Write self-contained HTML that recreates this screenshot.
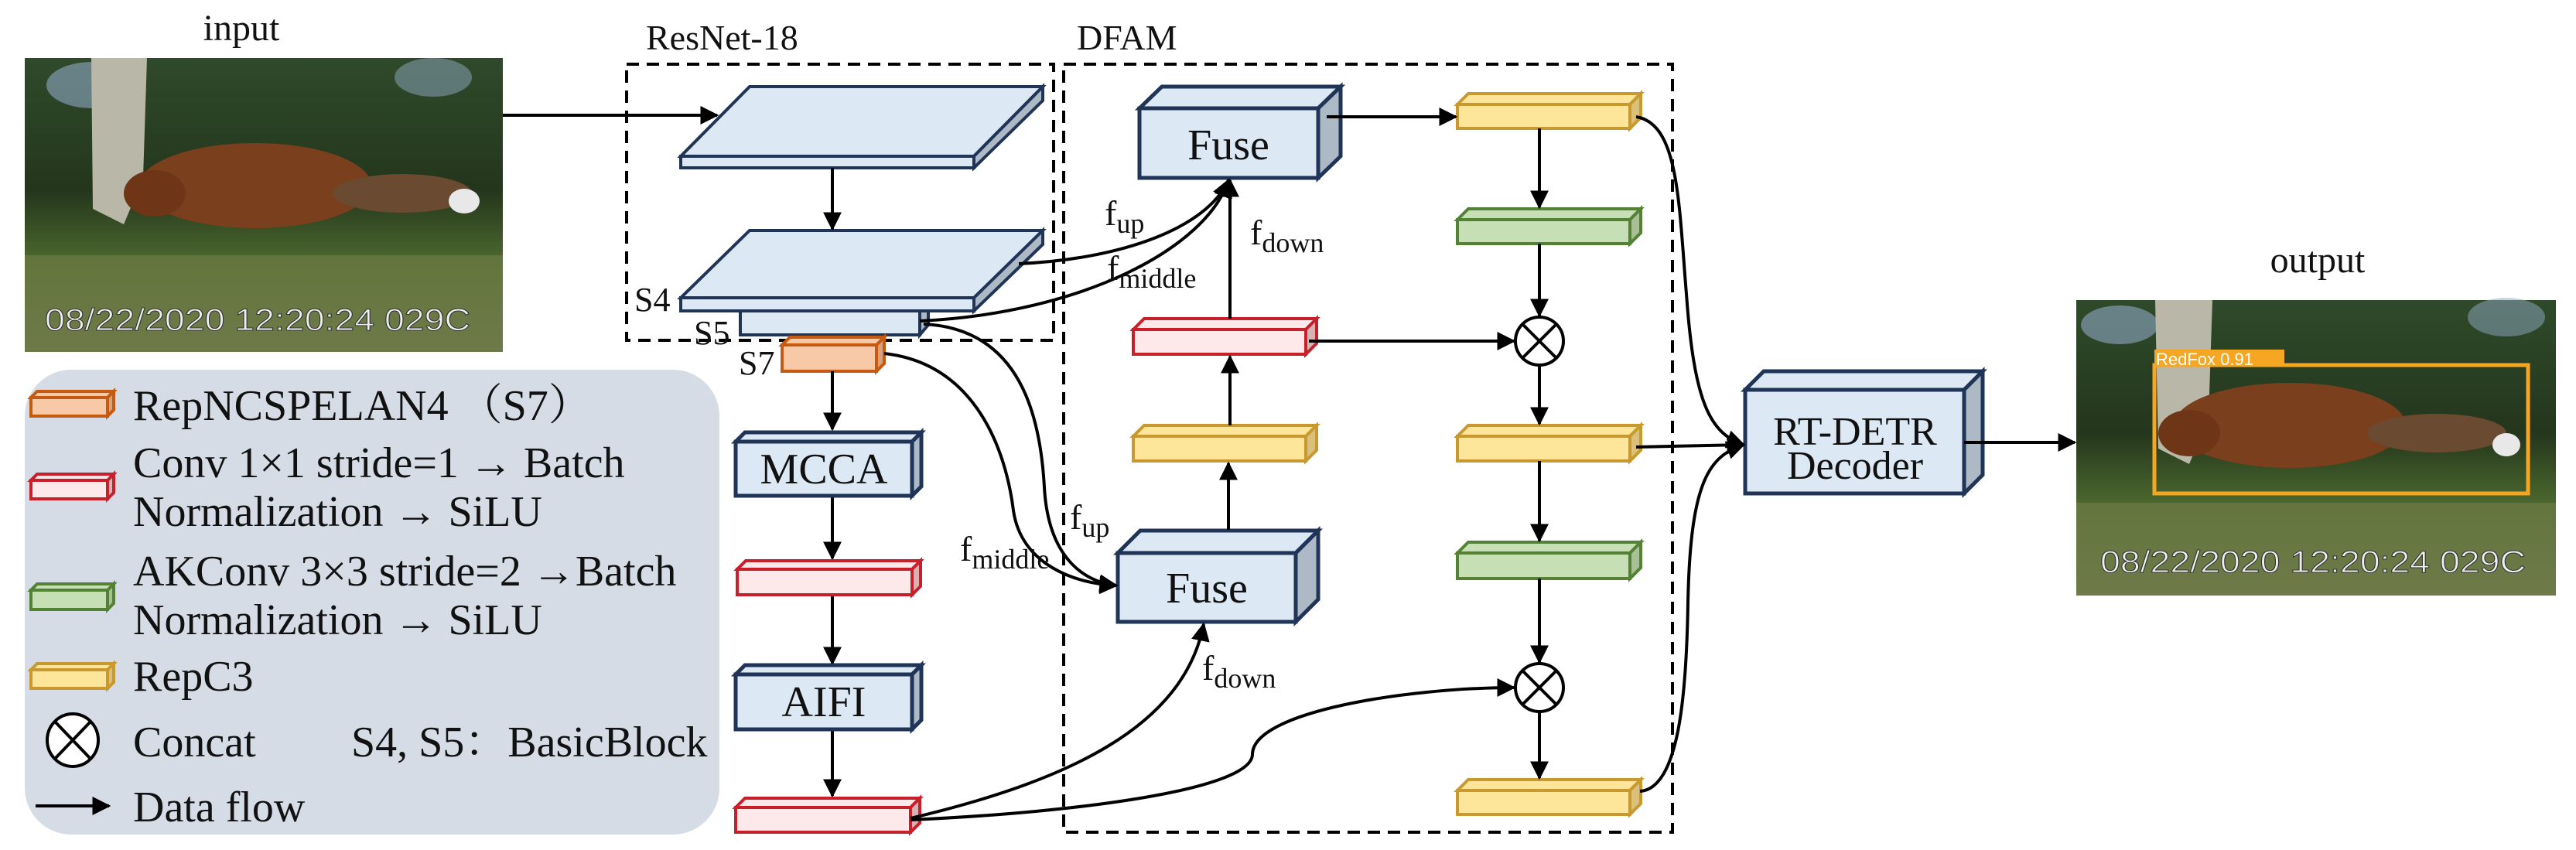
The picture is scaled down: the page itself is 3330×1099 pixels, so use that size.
<!DOCTYPE html>
<html><head><meta charset="utf-8"><style>
html,body{margin:0;padding:0;background:#fff;}
svg{display:block;}
</style></head><body>
<svg width="3330" height="1099" viewBox="0 0 3330 1099" xmlns="http://www.w3.org/2000/svg">
<defs>
<marker id="ah" viewBox="0 0 10 10" refX="9" refY="5" markerWidth="6" markerHeight="6" orient="auto" markerUnits="strokeWidth">
<path d="M0,0 L10,5 L0,10 z" fill="#000"/></marker>
<linearGradient id="sky" x1="0" y1="0" x2="0" y2="1">
<stop offset="0" stop-color="#2f4a2a"/><stop offset="0.45" stop-color="#24361c"/><stop offset="0.7" stop-color="#4d6a2f"/><stop offset="1" stop-color="#6f7a55"/></linearGradient>
</defs>
<g style="font-family:'Liberation Serif',serif;" fill="#111">

<!-- input photo -->
<text x="312" y="52" font-size="48" text-anchor="middle">input</text>
<g>
<rect x="32" y="75" width="618" height="380" fill="url(#sky)"/>
<ellipse cx="120" cy="110" rx="60" ry="30" fill="#8fa9c4" opacity="0.6"/>
<ellipse cx="560" cy="100" rx="50" ry="25" fill="#8fa9c4" opacity="0.5"/>
<polygon points="118,75 190,75 185,230 160,290 120,270" fill="#b9b7a8"/>
<ellipse cx="330" cy="240" rx="150" ry="55" fill="#7a3f1c"/>
<ellipse cx="520" cy="250" rx="90" ry="25" fill="#6a4a30"/>
<ellipse cx="600" cy="260" rx="20" ry="16" fill="#e8e8e8"/>
<ellipse cx="200" cy="250" rx="40" ry="30" fill="#6e3516"/>
<rect x="32" y="330" width="618" height="125" fill="#6d7a45" opacity="0.7"/>
<text x="58" y="427" font-size="40" textLength="550" lengthAdjust="spacingAndGlyphs" style="font-family:'Liberation Sans',sans-serif;fill:#eee;stroke:#333;stroke-width:1">08/22/2020 12:20:24  029C</text>
</g>
<line x1="650" y1="149" x2="927" y2="149" stroke="#000" stroke-width="4" marker-end="url(#ah)"/>

<!-- ResNet -->
<text x="835" y="64" font-size="46">ResNet-18</text>
<rect x="810" y="83" width="552" height="357" fill="none" stroke="#000" stroke-width="4" stroke-dasharray="16,10"/>
<g stroke="#1f3457" stroke-width="4">
<polygon points="880,202 969,112 1348,112 1259,202" fill="#dce9f5"/>
<rect x="880" y="202" width="379" height="15" fill="#dce9f5"/>
<polygon points="1259,202 1348,112 1348,130 1259,217" fill="#adb9c5"/>
<polygon points="880,385 969,298 1348,298 1259,385" fill="#dce9f5"/>
<rect x="880" y="385" width="379" height="17" fill="#dce9f5"/>
<polygon points="1259,385 1348,298 1348,316 1259,402" fill="#adb9c5"/>
<rect x="957" y="402" width="232" height="31" fill="#dce9f5"/>
<polygon points="1189,402 1200,402 1200,420 1189,433" fill="#adb9c5"/>
</g>
<line x1="1076" y1="217" x2="1076" y2="296" stroke="#000" stroke-width="4" marker-end="url(#ah)"/>
<text x="820" y="402" font-size="44">S4</text>
<text x="897" y="445" font-size="44">S5</text>
<g stroke="#c55a11" stroke-width="4">
<polygon points="1011,446 1021,436 1143,436 1133,446" fill="#f7c9a6"/>
<rect x="1011" y="446" width="122" height="34" fill="#f7c9a6"/>
<polygon points="1133,446 1143,436 1143,470 1133,480" fill="#d8a27a"/>
</g>
<text x="955" y="484" font-size="44">S7</text>

<!-- centre column -->
<g stroke="#000" stroke-width="4" marker-end="url(#ah)">
<line x1="1076" y1="480" x2="1076" y2="555"/>
<line x1="1076" y1="641" x2="1076" y2="722"/>
<line x1="1076" y1="769" x2="1076" y2="858"/>
<line x1="1076" y1="943" x2="1076" y2="1029"/>
</g>
<g stroke="#1f3457" stroke-width="5">
<polygon points="951,571 963,559 1191,559 1179,571" fill="#dce9f5"/><rect x="951" y="571" width="228" height="70" fill="#dce9f5"/><polygon points="1179,571 1191,559 1191,629 1179,641" fill="#adb9c5"/>
<polygon points="951,872 963,860 1191,860 1179,872" fill="#dce9f5"/><rect x="951" y="872" width="228" height="71" fill="#dce9f5"/><polygon points="1179,872 1191,860 1191,931 1179,943" fill="#adb9c5"/>
</g>
<text x="1065" y="625" font-size="56" text-anchor="middle">MCCA</text>
<text x="1065" y="926" font-size="56" text-anchor="middle">AIFI</text>
<g stroke="#c8202a" stroke-width="4">
<polygon points="953,736 964,725 1190,725 1179,736" fill="#fde9ea"/><rect x="953" y="736" width="226" height="33" fill="#fde9ea"/><polygon points="1179,736 1190,725 1190,758 1179,769" fill="#d6b3b5"/>
<polygon points="951,1044 963,1032 1189,1032 1177,1044" fill="#fde9ea"/><rect x="951" y="1044" width="226" height="32" fill="#fde9ea"/><polygon points="1177,1044 1189,1032 1189,1064 1177,1076" fill="#d6b3b5"/>
</g>

<!-- DFAM -->
<text x="1392" y="64" font-size="46">DFAM</text>
<rect x="1375" y="83" width="787" height="993" fill="none" stroke="#000" stroke-width="4" stroke-dasharray="16,10"/>
<g stroke="#1f3457" stroke-width="5">
<polygon points="1473,140 1502,112 1733,112 1704,140" fill="#dce9f5"/><rect x="1473" y="140" width="231" height="90" fill="#dce9f5"/><polygon points="1704,140 1733,112 1733,202 1704,230" fill="#adb9c5"/>
<polygon points="1445,715 1474,686 1704,686 1675,715" fill="#dce9f5"/><rect x="1445" y="715" width="230" height="89" fill="#dce9f5"/><polygon points="1675,715 1704,686 1704,775 1675,804" fill="#adb9c5"/>
<polygon points="2256,504 2280,480 2563,480 2539,504" fill="#dce9f5"/><rect x="2256" y="504" width="283" height="134" fill="#dce9f5"/><polygon points="2539,504 2563,480 2563,614 2539,638" fill="#adb9c5"/>
</g>
<text x="1588" y="206" font-size="56" text-anchor="middle">Fuse</text>
<text x="1560" y="779" font-size="56" text-anchor="middle">Fuse</text>
<text x="2398" y="575" font-size="52" text-anchor="middle">RT-DETR</text>
<text x="2398" y="619" font-size="52" text-anchor="middle">Decoder</text>

<!-- bars -->
<g stroke-width="4">
<g stroke="#c8202a"><polygon points="1465,426 1479,412 1702,412 1688,426" fill="#fde9ea"/><rect x="1465" y="426" width="223" height="32" fill="#fde9ea"/><polygon points="1688,426 1702,412 1702,444 1688,458" fill="#d6b3b5"/></g>
<g stroke="#c9992f" fill="#fde699">
<polygon points="1465,564 1479,550 1702,550 1688,564"/><rect x="1465" y="564" width="223" height="32"/><polygon points="1688,564 1702,550 1702,582 1688,596" fill="#d9c17c"/>
<polygon points="1884,135 1898,121 2121,121 2107,135"/><rect x="1884" y="135" width="223" height="31"/><polygon points="2107,135 2121,121 2121,152 2107,166" fill="#d9c17c"/>
<polygon points="1884,564 1898,550 2121,550 2107,564"/><rect x="1884" y="564" width="223" height="32"/><polygon points="2107,564 2121,550 2121,582 2107,596" fill="#d9c17c"/>
<polygon points="1884,1022 1898,1008 2121,1008 2107,1022"/><rect x="1884" y="1022" width="223" height="31"/><polygon points="2107,1022 2121,1008 2121,1039 2107,1053" fill="#d9c17c"/>
</g>
<g stroke="#548235" fill="#c6dfb4">
<polygon points="1884,284 1898,270 2121,270 2107,284"/><rect x="1884" y="284" width="223" height="31"/><polygon points="2107,284 2121,270 2121,301 2107,315" fill="#a9bf98"/>
<polygon points="1884,715 1898,701 2121,701 2107,715"/><rect x="1884" y="715" width="223" height="33"/><polygon points="2107,715 2121,701 2121,734 2107,748" fill="#a9bf98"/>
</g>
</g>
<g stroke="#000" stroke-width="4" fill="#fff">
<ellipse cx="1990" cy="441" rx="31" ry="31"/><line x1="1968" y1="419" x2="2012" y2="463"/><line x1="2012" y1="419" x2="1968" y2="463"/>
<ellipse cx="1990" cy="889" rx="31" ry="31"/><line x1="1968" y1="867" x2="2012" y2="911"/><line x1="2012" y1="867" x2="1968" y2="911"/>
</g>

<g stroke="#000" stroke-width="4" marker-end="url(#ah)" fill="none">
<line x1="1715" y1="151" x2="1882" y2="151"/>
<line x1="1990" y1="166" x2="1990" y2="268"/>
<line x1="1990" y1="315" x2="1990" y2="408"/>
<line x1="1990" y1="472" x2="1990" y2="548"/>
<line x1="1990" y1="596" x2="1990" y2="699"/>
<line x1="1990" y1="748" x2="1990" y2="856"/>
<line x1="1990" y1="920" x2="1990" y2="1006"/>
<line x1="1692" y1="441" x2="1957" y2="441"/>
<line x1="1590" y1="412" x2="1590" y2="233"/>
<line x1="1590" y1="550" x2="1590" y2="461"/>
<line x1="1588" y1="685" x2="1588" y2="599"/>
<line x1="2115" y1="578" x2="2254" y2="575"/>
<line x1="2539" y1="572" x2="2682" y2="572"/>
<path d="M1317,341 C1450,335 1560,295 1588,233"/>
<path d="M1189,415 C1400,405 1560,320 1588,233"/>
<path d="M1194,419 C1320,425 1345,540 1350,630 C1355,720 1400,752 1443,757"/>
<path d="M1143,457 C1260,470 1300,580 1310,660 C1320,730 1390,755 1443,757"/>
<path d="M1177,1058 C1380,1010 1530,940 1556,807"/>
<path d="M1177,1060 C1400,1050 1620,1020 1619,975 C1620,920 1820,889 1957,889"/>
<path d="M2115,151 C2170,160 2170,260 2180,380 C2190,520 2210,560 2254,575"/>
<path d="M2120,1023 C2170,1020 2180,900 2182,780 C2185,620 2210,590 2254,575"/>
</g>

<g font-size="46">
<text x="1428" y="291">f<tspan font-size="36" dy="10">up</tspan></text>
<text x="1431" y="362">f<tspan font-size="36" dy="10">middle</tspan></text>
<text x="1616" y="316">f<tspan font-size="36" dy="10">down</tspan></text>
<text x="1383" y="684">f<tspan font-size="36" dy="10">up</tspan></text>
<text x="1241" y="725">f<tspan font-size="36" dy="10">middle</tspan></text>
<text x="1554" y="879">f<tspan font-size="36" dy="10">down</tspan></text>
</g>

<!-- legend -->
<rect x="32" y="478" width="898" height="601" rx="60" fill="#d6dce5"/>
<g stroke-width="4">
<g stroke="#c55a11"><polygon points="40,514 48,506 147,506 139,514" fill="#f7c9a6"/><rect x="40" y="514" width="99" height="24" fill="#f7c9a6"/><polygon points="139,514 147,506 147,530 139,538" fill="#d8a27a"/></g>
<g stroke="#c8202a"><polygon points="40,621 48,613 147,613 139,621" fill="#fde9ea"/><rect x="40" y="621" width="99" height="24" fill="#fde9ea"/><polygon points="139,621 147,613 147,637 139,645" fill="#d6b3b5"/></g>
<g stroke="#548235"><polygon points="40,763 48,755 147,755 139,763" fill="#c6dfb4"/><rect x="40" y="763" width="99" height="25" fill="#c6dfb4"/><polygon points="139,763 147,755 147,780 139,788" fill="#a9bf98"/></g>
<g stroke="#c9992f"><polygon points="40,866 48,858 147,858 139,866" fill="#fde699"/><rect x="40" y="866" width="99" height="24" fill="#fde699"/><polygon points="139,866 147,858 147,882 139,890" fill="#d9c17c"/></g>
<g stroke="#000" fill="#fff"><ellipse cx="94" cy="957" rx="33" ry="34"/><line x1="71" y1="933" x2="117" y2="981"/><line x1="117" y1="933" x2="71" y2="981"/></g>
<line x1="46" y1="1042" x2="141" y2="1042" stroke="#000" marker-end="url(#ah)"/>
</g>
<g font-size="56" style="font-family:'Liberation Serif','Noto Serif CJK SC',serif;">
<text x="172" y="543">RepNCSPELAN4 （S7）</text>
<text x="172" y="617">Conv 1×1 stride=1 → Batch</text>
<text x="172" y="680">Normalization → SiLU</text>
<text x="172" y="757">AKConv 3×3 stride=2 →Batch</text>
<text x="172" y="820">Normalization → SiLU</text>
<text x="172" y="893">RepC3</text>
<text x="172" y="978">Concat</text>
<text x="454" y="978">S4, S5：BasicBlock</text>
<text x="172" y="1062">Data flow</text>
</g>

<!-- output -->
<text x="2996" y="352" font-size="48" text-anchor="middle">output</text>
<g>
<rect x="2684" y="388" width="620" height="382" fill="url(#sky)"/>
<ellipse cx="2740" cy="420" rx="50" ry="25" fill="#8fa9c4" opacity="0.6"/>
<ellipse cx="3240" cy="410" rx="50" ry="25" fill="#8fa9c4" opacity="0.5"/>
<polygon points="2786,388 2860,388 2855,540 2830,600 2790,580" fill="#b9b7a8"/>
<ellipse cx="2960" cy="550" rx="150" ry="55" fill="#7a3f1c"/>
<ellipse cx="3150" cy="560" rx="90" ry="25" fill="#6a4a30"/>
<ellipse cx="3240" cy="575" rx="18" ry="15" fill="#e8e8e8"/>
<ellipse cx="2830" cy="560" rx="40" ry="30" fill="#6e3516"/>
<rect x="2684" y="650" width="620" height="120" fill="#6d7a45" opacity="0.7"/>
<text x="2715" y="740" font-size="40" textLength="550" lengthAdjust="spacingAndGlyphs" style="font-family:'Liberation Sans',sans-serif;fill:#eee;stroke:#333;stroke-width:1">08/22/2020 12:20:24  029C</text>
<rect x="2785" y="472" width="483" height="166" fill="none" stroke="#f5a623" stroke-width="5"/>
<rect x="2785" y="452" width="168" height="22" fill="#f5a623"/>
<text x="2787" y="472" font-size="22" style="font-family:'Liberation Sans',sans-serif;fill:#fff">RedFox  0.91</text>
</g>
</g>
</svg>
</body></html>
